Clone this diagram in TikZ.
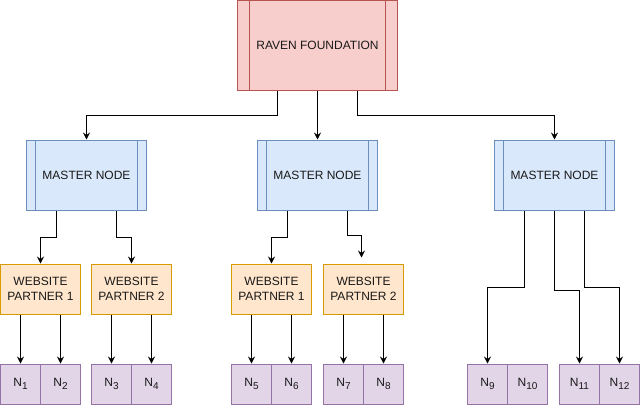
\documentclass[tikz,border=0pt]{standalone}
\usepackage{fontspec}
\setmainfont{Liberation Sans}
\usepackage{xcolor}
\usepackage{tikz}
\usetikzlibrary{arrows.meta,positioning,calc}

\definecolor{ravenfill}{HTML}{F8CECC}
\definecolor{ravenline}{HTML}{B85450}
\definecolor{masterfill}{HTML}{DAE8FC}
\definecolor{masterline}{HTML}{6C8EBF}
\definecolor{partnerfill}{HTML}{FFE6CC}
\definecolor{partnerline}{HTML}{D79B00}
\definecolor{leaffill}{HTML}{E1D5E7}
\definecolor{leafline}{HTML}{9673A6}

\newcommand{\leafsub}[1]{\raisebox{-3pt}{\fontsize{10}{10}\selectfont #1}}

\begin{document}
\begin{tikzpicture}[x=1pt, y=-1pt, line width=1pt, node distance=40pt,
    every node/.style={font=\fontsize{12}{15}\selectfont, text=black!90, inner sep=0pt},
    procbox/.style={path picture={
        \draw[#1] ($(path picture bounding box.north west)!0.075!(path picture bounding box.north east)$)
          -- ($(path picture bounding box.south west)!0.075!(path picture bounding box.south east)$);
        \draw[#1] ($(path picture bounding box.north east)!0.075!(path picture bounding box.north west)$)
          -- ($(path picture bounding box.south east)!0.075!(path picture bounding box.south west)$);}},
    raven/.style={draw=ravenline, fill=ravenfill, procbox=ravenline, minimum width=160pt, minimum height=90pt},
    master/.style={draw=masterline, fill=masterfill, procbox=masterline, minimum width=120pt, minimum height=70pt},
    partner/.style={draw=partnerline, fill=partnerfill, minimum width=80pt, minimum height=50pt, align=center},
    leaf/.style={draw=leafline, fill=leaffill, minimum width=40pt, minimum height=40pt},
    link/.style={-{Stealth[length=7pt, width=7pt, inset=2.5pt]}, black}]
  \useasboundingbox (0,0) rectangle (640,405);

  % top and master nodes
  \node[raven] (raven) at (317.5,45) {RAVEN FOUNDATION};
  \node[master] (m1) at (86.5,175) {MASTER NODE};
  \node[master] (m2) at (317.5,175) {MASTER NODE};
  \node[master] (m3) at (554.5,175) {MASTER NODE};

  % website partners
  \node[partner] (wa1) at (40.5,289) {WEBSITE\\PARTNER 1};
  \node[partner] (wa2) at (131.5,289) {WEBSITE\\PARTNER 2};
  \node[partner] (wb1) at (271.5,289) {WEBSITE\\PARTNER 1};
  \node[partner] (wb2) at (363.5,289) {WEBSITE\\PARTNER 2};

  % leaves
  \node[leaf] (n1) at (20.5,384) {N\leafsub{1}};
  \node[leaf] (n2) [right of=n1] {N\leafsub{2}};
  \node[leaf] (n3) at (111.5,384) {N\leafsub{3}};
  \node[leaf] (n4) [right of=n3] {N\leafsub{4}};
  \node[leaf] (n5) at (251.5,384) {N\leafsub{5}};
  \node[leaf] (n6) [right of=n5] {N\leafsub{6}};
  \node[leaf] (n7) at (343.5,384) {N\leafsub{7}};
  \node[leaf] (n8) [right of=n7] {N\leafsub{8}};
  \node[leaf] (n9) at (487.5,384) {N\leafsub{9}};
  \node[leaf] (n10) [right of=n9] {N\leafsub{10}};
  \node[leaf] (n11) at (579.5,384) {N\leafsub{11}};
  \node[leaf] (n12) [right of=n11] {N\leafsub{12}};

  % connectors
  \draw[link] ([xshift=-40pt]raven.south) -- ++(0,25) -| (m1.north);
  \draw[link] (raven.south) -- (m2.north);
  \draw[link] ([xshift=40pt]raven.south) -- ++(0,25) -| (m3.north);

  \draw[link] ([xshift=-30pt]m1.south) -- ++(0,27) -| (wa1.north);
  \draw[link] ([xshift=30pt]m1.south) -- ++(0,27) -| (wa2.north);
  \draw[link] ([xshift=-30pt]m2.south) -- ++(0,27) -| (wb1.north);
  \draw[link] ([xshift=30pt]m2.south) -- ++(0,25) -| ([xshift=-2pt, yshift=6pt]wb2.north);

  \draw[link] ([xshift=-30pt]m3.south) -- ++(0,77) -| (n9.north);
  \draw[link] (m3.south) -- ++(0,80) -| (n11.north);
  \draw[link] ([xshift=30pt]m3.south) -- ++(0,77) -| (n12.north);

  \draw[link] (n1.north |- wa1.south) -- (n1.north);
  \draw[link] (n2.north |- wa1.south) -- (n2.north);
  \draw[link] (n3.north |- wa2.south) -- (n3.north);
  \draw[link] (n4.north |- wa2.south) -- (n4.north);
  \draw[link] (n5.north |- wb1.south) -- (n5.north);
  \draw[link] (n6.north |- wb1.south) -- (n6.north);
  \draw[link] (n7.north |- wb2.south) -- (n7.north);
  \draw[link] (n8.north |- wb2.south) -- (n8.north);
\end{tikzpicture}
\end{document}
